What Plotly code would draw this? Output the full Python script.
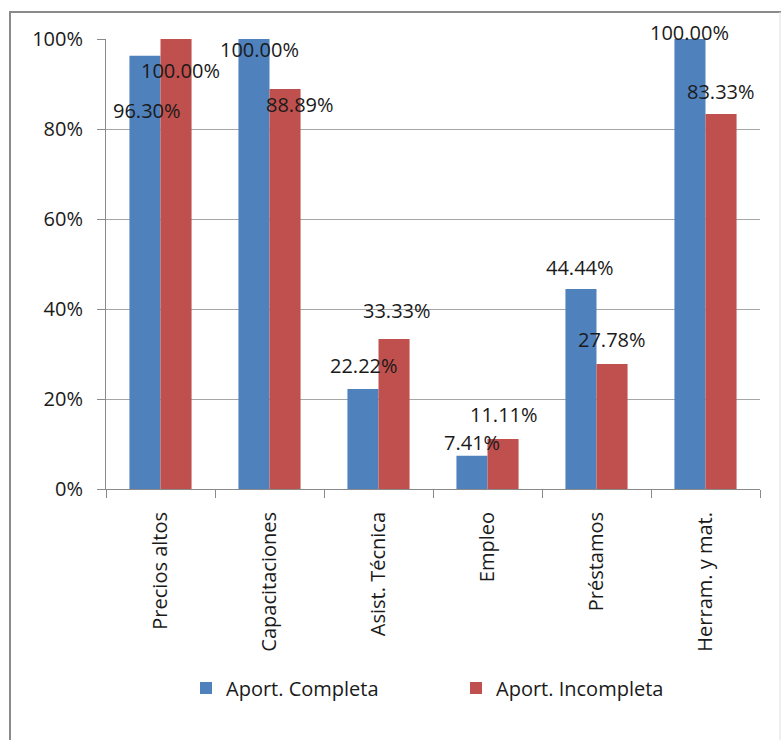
import plotly.graph_objects as go

categories = ["Precios altos", "Capacitaciones", "Asist. Técnica", "Empleo", "Préstamos", "Herram. y mat."]
completa = [0.9630, 1.0000, 0.2222, 0.0741, 0.4444, 1.0000]
incompleta = [1.0000, 0.8889, 0.3333, 0.1111, 0.2778, 0.8333]
series_names = ["Aport. Completa", "Aport. Incompleta"]
colors = ["#4F81BD", "#C0504D"]

# label offsets (px) relative to bar centre / top: (dx, dy up)
off_completa = [(2, -55), (6, -10), (1, 24), (0, 13), (-1, 22), (0, 7)]
off_incompleta = [(4, -31), (15, -15), (3, 29), (1, 25), (0, 24), (0, 23)]

FONT = "Open Sans"
FS = 20
TXT = "#1a1a1a"
W, H = 784, 740
L, R, T, B = 106, 24, 39, 251
pw, ph = W - L - R, H - T - B

fig = go.Figure()
for name, vals, col in zip(series_names, [completa, incompleta], colors):
    fig.add_trace(go.Bar(x=categories, y=vals, name=name, marker=dict(color=col, line=dict(width=0))))

cat_w = pw / len(categories)
bargap = 0.43
bar_w = cat_w * (1 - bargap) / 2

annotations = []
for side, vals, offs in [(-1, completa, off_completa), (1, incompleta, off_incompleta)]:
    for c, v, (dx, dy) in zip(categories, vals, offs):
        annotations.append(dict(
            x=c, y=v, xref="x", yref="y", text=f"{v*100:.2f}%", showarrow=False,
            xanchor="center", yanchor="middle",
            xshift=side * bar_w / 2 + dx, yshift=dy,
            font=dict(family=FONT, size=FS, color=TXT)))

def px2paper_x(px):
    return (px - L) / pw

def px2paper_y(py):
    return (H - B - py) / ph

shapes = [
    dict(type="line", xref="paper", yref="paper", x0=px2paper_x(10), x1=px2paper_x(10),
         y0=px2paper_y(12), y1=px2paper_y(760), line=dict(color="#8a8a8a", width=2)),
    dict(type="line", xref="paper", yref="paper", x0=px2paper_x(9), x1=px2paper_x(781),
         y0=px2paper_y(12), y1=px2paper_y(12), line=dict(color="#8a8a8a", width=2)),
    dict(type="line", xref="paper", yref="paper", x0=px2paper_x(780), x1=px2paper_x(780),
         y0=px2paper_y(12), y1=px2paper_y(760), line=dict(color="#e0e0e0", width=1)),
]

fig.update_layout(
    width=W, height=H, margin=dict(l=L, r=R, t=T, b=B, autoexpand=False),
    paper_bgcolor="white", plot_bgcolor="white",
    barmode="group", bargap=bargap, bargroupgap=0,
    font=dict(family=FONT, size=FS, color=TXT),
    annotations=annotations, shapes=shapes,
    legend=dict(orientation="h", x=px2paper_x(186), xanchor="left", y=px2paper_y(688), yanchor="middle",
                font=dict(family=FONT, size=FS, color=TXT), entrywidth=225, entrywidthmode="pixels",
                itemclick=False),
    xaxis=dict(type="category", tickson="boundaries", ticks="outside", ticklen=8, tickcolor="#8a8a8a",
               showline=True, linecolor="#8a8a8a", linewidth=1, showgrid=False, tickangle=-90,
               ticklabelstandoff=14, fixedrange=True),
    yaxis=dict(range=[0, 1], dtick=0.2, tickformat=".0%", ticks="outside", ticklen=8, tickcolor="#8a8a8a",
               showline=True, linecolor="#8a8a8a", linewidth=1, showgrid=True, gridcolor="#a6a6a6",
               gridwidth=1, zeroline=False, ticklabelstandoff=10, fixedrange=True),
)

fig.write_html("out.html")
